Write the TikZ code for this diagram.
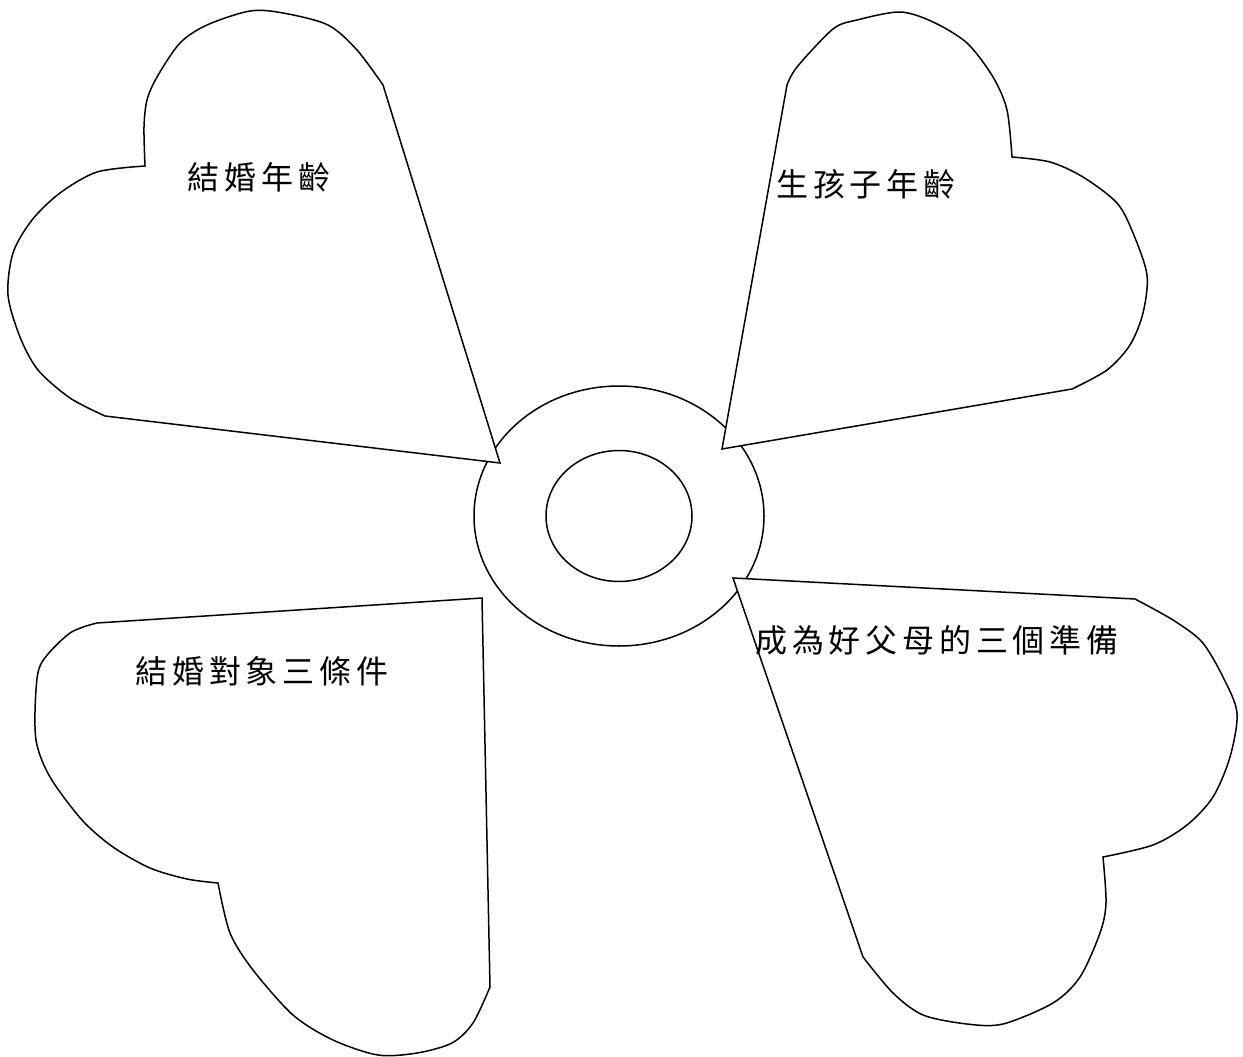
\documentclass[tikz,border=0pt]{standalone}
\usepackage{fontspec}
\newfontfamily\cjk[LetterSpace=15]{Noto Sans CJK TC}
\usetikzlibrary{shapes.geometric}
\begin{document}
\begin{tikzpicture}[x=1pt,y=-1pt,
  line/.style={draw=black,line width=1.5pt,line join=miter},
  petal/.style={line,fill=white},
  ring/.style={ellipse,line,inner sep=0pt},
  label/.style={font=\cjk\fontsize{32}{36}\selectfont,inner sep=0pt,anchor=center}]
\useasboundingbox (0,0) rectangle (1243,1057);
\fill[white] (0,0) rectangle (1243,1057);
% centre rings
\node[ring,minimum width=290pt,minimum height=260pt] (outer) at (619,516) {};
\node[ring,minimum width=146pt,minimum height=131pt] (inner) at (619,516) {};
% top-left petal
\draw[petal] (500,463) -- plot[smooth,tension=0.5] coordinates {(105,416) (70,398) (38,370) (20,337) (8,295) (13,253) (32,220) (60,193) (97,172) (145,166)}
  -- plot[smooth,tension=0.5] coordinates {(145,166) (144,127) (147,100) (157,77) (180,43) (207,25) (250,11) (283,13) (328,25) (357,50) (383,85)} -- cycle;
% top-right petal
\draw[petal] (722,449) -- plot[smooth,tension=0.5] coordinates {(787,85) (797,67) (833,29) (857,20) (900,12) (933,22) (967,43) (993,77) (1007,110) (1012,157)}
  -- plot[smooth,tension=0.5] coordinates {(1012,157) (1050,162) (1083,177) (1117,203) (1133,233) (1147,275) (1143,313) (1130,345) (1107,370) (1072,389)} -- cycle;
% bottom-left petal
\draw[petal] (482,598) -- plot[smooth,tension=0.5] coordinates {(97,623) (70,633) (42,662) (36,690) (36,740) (50,777) (82,820) (113,847) (150,868) (187,879) (218,883)}
  -- plot[smooth,tension=0.5] coordinates {(218,883) (230,933) (253,970) (293,1015) (333,1040) (378,1055) (417,1053) (452,1043) (473,1023) (490,987)} -- cycle;
% bottom-right petal
\draw[petal] (733,578) -- plot[smooth,tension=0.5] coordinates {(1135,599) (1173,620) (1202,642) (1223,677) (1237,713) (1230,757) (1213,797) (1187,825) (1153,845) (1103,857)}
  -- plot[smooth,tension=0.5] coordinates {(1103,857) (1106,903) (1100,933) (1080,977) (1053,1003) (1003,1024) (967,1024) (923,1015) (893,993) (863,957)} -- cycle;
% labels
\node[label] (t1) at (259,177) {結婚年齡};
\node[label] (t2) at (866,184) {生孩子年齡};
\node[label] (t3) at (262,671) {結婚對象三條件};
\node[label] (t4) at (937,640) {成為好父母的三個準備};
\end{tikzpicture}
\end{document}
